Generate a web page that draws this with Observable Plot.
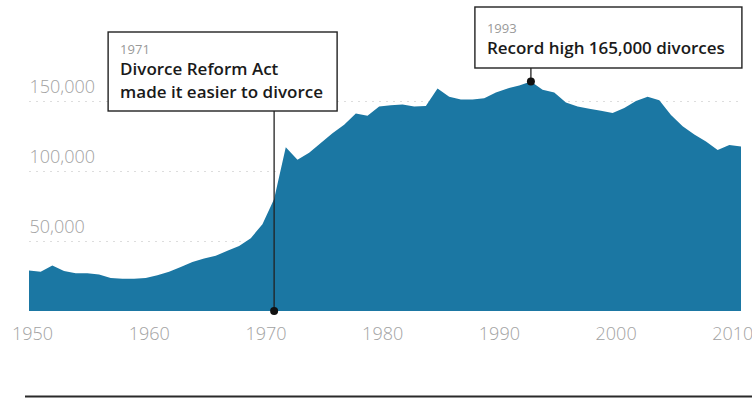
<!DOCTYPE html>
<html><head><meta charset="utf-8">
<script src="https://cdn.jsdelivr.net/npm/d3@7"></script>
<script src="https://cdn.jsdelivr.net/npm/@observablehq/plot@0.6"></script>
<style>
html,body{margin:0;padding:0;background:#fff;}
#chart{width:752px;height:401px;overflow:hidden;}
</style></head><body><div id="chart"></div>
<script>
// Divorces per year (England & Wales)
const years = d3.range(1950, 2012);
const divorces = [
  29000, 28000, 32500, 28500, 27000, 27000, 26000, 23500, 23000, 23000,
  23500, 25500, 28000, 31500, 35000, 37500, 39500, 43000, 46500, 52000,
  62000, 80000, 117000, 108000, 113000, 120000, 127000, 133000, 141000, 139500,
  146000, 147000, 147500, 146000, 146500, 159000, 153000, 151000, 151000, 152000,
  156000, 159000, 161000, 164000, 158000, 156000, 149000, 146000, 144500, 143000,
  141500, 145000, 150000, 153000, 150500, 140000, 132000, 126000, 121000, 115000,
  118500, 117500
];
const xTicks = [1950, 1960, 1970, 1980, 1990, 2000, 2010];
const yTicks = [50000, 100000, 150000];
const annoYears = [1971, 1993];
const annoHeads = ["1971", "1993"];
const annoTexts = [["Divorce Reform Act", "made it easier to divorce"], ["Record high 165,000 divorces"]];

const data = years.map((year, i) => ({year, value: divorces[i]}));
const font = "'Open Sans', 'Noto Sans', sans-serif";
const grey = "#a2a2a2";
const blue = "#1b77a3";

const plot = Plot.plot({
  width: 752, height: 401,
  marginLeft: 29, marginRight: 11, marginTop: 101, marginBottom: 90,
  style: {fontFamily: font, background: "transparent", overflow: "visible"},
  x: {domain: [1950, 2011], axis: null},
  y: {domain: [0, 150000], axis: null},
  marks: [
    Plot.ruleY(yTicks, {stroke: "#bbb", strokeDasharray: "2,5", strokeOpacity: 0.5}),
    Plot.areaY(data, {x: "year", y: "value", fill: blue}),
    Plot.text(xTicks, {x: d => d, frameAnchor: "bottom", lineAnchor: "middle", dy: 23, dx: 3,
      text: d => String(d), fontSize: 18, fontWeight: 300, fill: grey}),
    Plot.text(yTicks, {x: () => 1950, y: d => d, text: d => d3.format(",")(d), textAnchor: "start",
      dy: -14, fontSize: 18, fontWeight: 300, fill: grey}),
    Plot.ruleY([0], {dy: 85, stroke: "#2a2a2a", strokeWidth: 2, insetLeft: -4, insetRight: -11})
  ]
});
document.getElementById("chart").appendChild(plot);

// Annotations: positioned from the plot's own scales
const sx = plot.scale("x"), sy = plot.scale("y");
const svg = d3.select(plot);
const g = svg.append("g").attr("font-family", font).attr("text-anchor", "start");
const layout = [
  {left: -166, right: 63, top: 32, bottom: 111, dotValue: 0, heads: [49], lines: [69, 92]},
  {left: -56, right: 211, top: 7, bottom: 68, dotValue: null, heads: [28], lines: [48]}
];
annoYears.forEach((yr, i) => {
  const L = layout[i];
  const x = sx.apply(yr);
  const v = L.dotValue === 0 ? 0 : divorces[years.indexOf(yr)];
  const yDot = sy.apply(v);
  g.append("line").attr("x1", x).attr("x2", x).attr("y1", yDot).attr("y2", L.bottom)
    .attr("stroke", "#222").attr("stroke-width", 1.3);
  g.append("circle").attr("cx", x).attr("cy", yDot).attr("r", 4).attr("fill", "#111");
  g.append("rect").attr("x", x + L.left).attr("y", L.top)
    .attr("width", L.right - L.left).attr("height", L.bottom - L.top)
    .attr("fill", "#fff").attr("stroke", "#222").attr("stroke-width", 1.4);
  g.append("text").attr("x", x + L.left + 12).attr("y", L.heads[0]).attr("dy", "0.35em")
    .attr("text-anchor", "start")
    .attr("font-size", 13).attr("fill", "#999").text(annoHeads[i]);
  annoTexts[i].forEach((t, j) => {
    g.append("text").attr("x", x + L.left + 12).attr("y", L.lines[j]).attr("dy", "0.35em")
      .attr("text-anchor", "start")
      .attr("font-size", 17).attr("font-weight", 600).attr("fill", "#1a1a1a").text(t);
  });
});
</script></body></html>
